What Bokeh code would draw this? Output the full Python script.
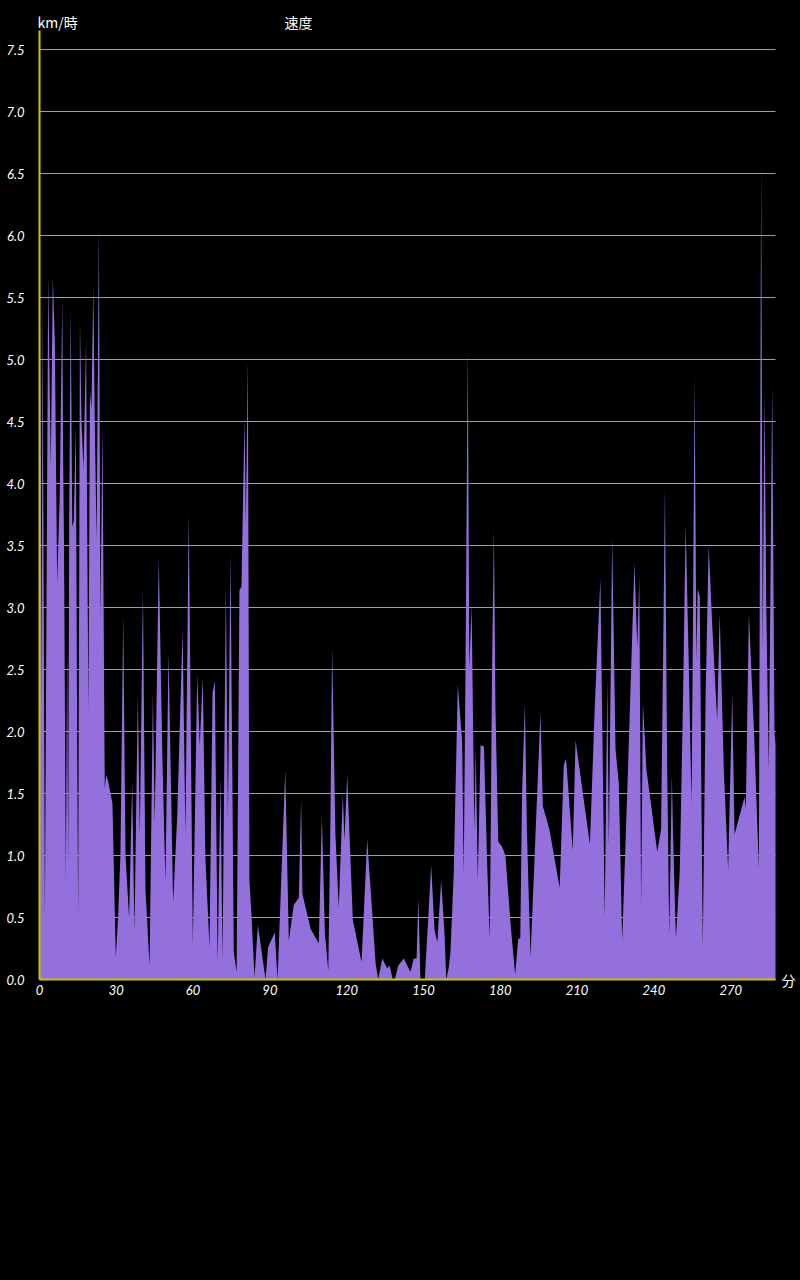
from bokeh.plotting import figure
from bokeh.models import FixedTicker, NumeralTickFormatter, Label, Range1d
from bokeh.embed import file_html
from bokeh.resources import INLINE

# ---- data (minutes, km/h) ----
min_a = [0.0, 0.4, 0.8, 1.2, 2.1, 3.4, 4.4, 5.2, 6.0, 6.9, 7.9, 8.9, 9.2, 9.6, 10.3, 10.8,
         11.2, 11.6, 12.2, 12.8, 13.4, 14.2, 14.7, 15.1, 15.8, 16.4, 17.2, 18.2, 18.6, 19.1,
         19.7, 20.3, 21.0, 21.6, 22.3, 23.2, 23.8, 24.6, 25.5, 26.0, 26.8, 28.5, 29.8, 30.7,
         31.6, 32.7, 33.6, 35.0]
kmh_a = [3.3, 5.3, 2.2, 5.5, 0.52, 5.67, 4.14, 5.66, 5.14, 3.2, 3.9, 5.5, 4.3, 3.45, 0.79, 2.7,
         0.93, 3.7, 5.42, 3.65, 3.7, 4.47, 2.0, 0.52, 5.32, 4.5, 4.12, 5.16, 3.8, 2.15,
         4.75, 4.6, 5.6, 4.5, 3.53, 6.07, 2.9, 4.47, 1.54, 1.65, 1.6, 1.42, 0.18, 0.5,
         1.0, 2.94, 1.0, 0.5]

min_b = [36.2, 37.1, 38.4, 39.2, 40.4, 41.4, 43.0, 44.3, 45.0, 46.6, 48.0, 49.2, 50.4, 52.2,
         53.8, 55.9, 57.0, 58.3, 59.9, 61.6, 62.6, 63.8, 64.8, 66.4, 67.6, 68.5, 69.6, 70.7,
         71.5, 72.8, 73.6, 74.6, 75.9, 77.0, 78.1, 78.9, 80.1, 80.6, 81.4, 82.0, 82.7, 84.0, 85.3]
kmh_b = [1.6, 0.39, 2.29, 1.16, 3.16, 0.72, 0.11, 2.32, 1.26, 3.4, 1.8, 0.79, 2.64, 0.62,
         1.32, 2.82, 1.17, 3.76, 0.29, 2.46, 1.89, 2.44, 0.99, 0.26, 2.31, 2.41, 0.14, 1.64,
         0.16, 3.17, 1.29, 3.44, 0.22, 0.06, 3.14, 3.17, 4.54, 3.67, 5.0, 0.8, 0.56, 0.02, 0.44]

min_c = [88.3, 89.3, 91.9, 93.0, 96.0, 97.4, 99.3, 101.3, 102.2, 102.7, 105.9, 109.1, 110.3,
         111.5, 112.8, 113.6, 114.3, 115.6, 116.9, 118.5, 119.1, 120.2, 122.4, 125.8, 128.0,
         130.1, 131.3, 132.3, 133.9, 135.8, 136.8, 138.0, 138.8, 140.1, 142.3, 144.9, 146.2,
         147.3, 148.0, 148.8, 150.5, 153.0, 154.3, 155.4, 156.9, 158.2, 158.9, 159.9]
kmh_c = [0.0, 0.26, 0.38, 0.0, 1.69, 0.31, 0.6, 0.66, 1.46, 0.69, 0.41, 0.29, 1.32,
         0.37, 0.07, 1.2, 2.68, 1.17, 0.58, 1.5, 1.12, 1.65, 0.48, 0.14, 1.13,
         0.5, 0.13, 0.0, 0.17, 0.09, 0.11, 0.0, 0.0, 0.11, 0.17, 0.06, 0.17,
         0.17, 0.66, 0.0, 0.0, 0.92, 0.4, 0.3, 0.8, 0.37, 0.0, 0.1]

min_d = [160.5, 161.8, 163.4, 165.1, 165.7, 166.4, 167.3, 167.9, 168.8, 169.4, 169.9, 170.4,
         171.2, 172.3, 173.6, 175.0, 175.9, 176.8, 177.5, 178.1, 179.2, 180.7, 182.0, 184.0,
         185.8, 187.0, 187.8, 188.5, 189.6, 190.4, 191.8, 193.8, 195.7, 196.6, 199.2, 203.2,
         204.8, 205.7, 208.3, 209.4, 215.0, 216.9, 219.1, 220.8, 221.8, 222.4, 223.7]
kmh_d = [0.21, 0.85, 2.38, 1.92, 0.84, 2.48, 5.09, 2.51, 3.02, 2.0, 1.19, 1.87,
         0.8, 1.89, 1.88, 0.85, 0.33, 2.54, 3.63, 2.2, 1.11, 1.07, 1.0, 0.45,
         0.04, 0.33, 0.33, 1.5, 2.22, 1.2, 0.18, 1.2, 2.15, 1.4, 1.21, 0.74,
         1.73, 1.78, 1.04, 1.93, 1.09, 2.2, 3.23, 0.5, 2.42, 1.07, 3.57]

min_e = [225.0, 226.3, 227.6, 229.8, 232.4, 233.5, 234.3, 235.0, 235.7, 237.1, 238.7, 241.3,
         242.8, 243.6, 244.3, 245.2, 246.0, 247.0, 247.5, 248.6, 250.1, 251.4, 252.4, 253.6,
         254.7, 255.3, 255.9, 256.6, 257.1, 257.9, 258.6, 259.1, 260.2, 261.4, 262.8, 264.7,
         265.7, 267.3, 269.0, 270.6, 271.5, 275.4, 275.9, 277.1, 279.1, 281.0, 281.9, 282.5,
         283.2, 283.9, 284.9, 286.2, 287.1, 287.5]
kmh_e = [1.86, 1.58, 0.31, 1.64, 3.36, 2.68, 3.25, 0.59, 2.23, 1.69, 1.44, 1.03,
         1.21, 2.6, 3.96, 1.7, 0.36, 1.66, 1.15, 0.33, 0.87, 2.29, 3.67, 2.57,
         1.41, 3.0, 4.87, 2.57, 3.15, 3.09, 1.4, 0.26, 2.29, 3.5, 2.85, 2.09,
         2.95, 1.7, 0.89, 2.3, 1.17, 1.47, 1.38, 2.95, 2.0, 0.9, 6.6, 2.63,
         4.75, 3.0, 1.69, 4.8, 2.0, 1.9]

minutes = min_a + min_b + min_c + min_d + min_e
speed = kmh_a + kmh_b + kmh_c + kmh_d + kmh_e
assert len(minutes) == len(speed)

x_ticks = [0, 30, 60, 90, 120, 150, 180, 210, 240, 270]
y_ticks = [0.0, 0.5, 1.0, 1.5, 2.0, 2.5, 3.0, 3.5, 4.0, 4.5, 5.0, 5.5, 6.0, 6.5, 7.0, 7.5]

title_text = "速度"
y_unit = "km/時"
x_unit = "分"

# axis extents (data units); the frame is wider so that the texts fit inside it
X_END = 287.5
Y_END = 7.653
PX_X = 2.56   # px per minute
PX_Y = 124.0  # px per km/h
X0_PX, Y0_PX = 39, 979  # page position of the origin

AXIS = "#c8c800"
FILL = "#9370DB"
GRID = "#a0a0a0"
TXT = "#ffffff"
TICK_FONT = "Lato"
CJK_FONT = "Noto Sans CJK JP"

W, H = 800, 1030
TOP, BOTTOM = 8, 1000
x_lo = -X0_PX / PX_X
x_hi = (W - X0_PX) / PX_X
y_hi = (Y0_PX - TOP) / PX_Y
y_lo = -(BOTTOM - Y0_PX) / PX_Y

p = figure(width=W, height=H,
           x_range=Range1d(x_lo, x_hi), y_range=Range1d(y_lo, y_hi),
           output_backend="svg", toolbar_location=None,
           min_border_left=0, min_border_right=0, min_border_top=TOP,
           min_border_bottom=H - BOTTOM,
           background_fill_color="#000000", border_fill_color="#000000")
p.outline_line_color = None
p.xgrid.grid_line_color = None
p.ygrid.grid_line_color = None

# horizontal grid lines limited to the plot extent
p.segment(x0=[0] * len(y_ticks), y0=y_ticks, x1=[X_END] * len(y_ticks), y1=y_ticks,
          line_color=GRID, line_width=1)

p.varea(x=minutes, y1=[0] * len(speed), y2=speed, fill_color=FILL, fill_alpha=1.0)

# axes
for ax in (p.xaxis[0], p.yaxis[0]):
    ax.axis_line_color = AXIS
    ax.axis_line_width = 2
    ax.major_tick_line_color = None
    ax.minor_tick_line_color = None
    ax.major_tick_in = 0
    ax.major_tick_out = 0
    ax.major_label_text_color = TXT
    ax.major_label_text_font = TICK_FONT
    ax.major_label_text_font_style = "italic"
    ax.major_label_text_font_size = "13px"

p.xaxis.fixed_location = 0
p.yaxis.fixed_location = 0
p.xaxis.bounds = (0, X_END)
p.yaxis.bounds = (0, Y_END)
p.xaxis.ticker = FixedTicker(ticks=x_ticks)
p.yaxis.ticker = FixedTicker(ticks=y_ticks)
p.yaxis.formatter = NumeralTickFormatter(format="0.0")
p.xaxis.major_label_standoff = 5
p.yaxis.major_label_standoff = 15

p.add_layout(Label(x=(284 - X0_PX) / PX_X, y=(Y0_PX - 21) / PX_Y, text=title_text, text_color=TXT,
                   text_font=CJK_FONT, text_font_size="14px", text_baseline="middle"))
p.add_layout(Label(x=(37 - X0_PX) / PX_X, y=(Y0_PX - 21) / PX_Y, text=y_unit, text_color=TXT,
                   text_font=CJK_FONT, text_font_size="14px", text_baseline="middle"))
p.add_layout(Label(x=(781 - X0_PX) / PX_X, y=0.0, text=x_unit, text_color=TXT,
                   text_font=CJK_FONT, text_font_size="14px", text_baseline="middle"))

html = file_html(p, INLINE)
html = html.replace("<head>", "<head><style>html,body{background:#000000;}</style>", 1)
open("out.html", "w").write(html)
